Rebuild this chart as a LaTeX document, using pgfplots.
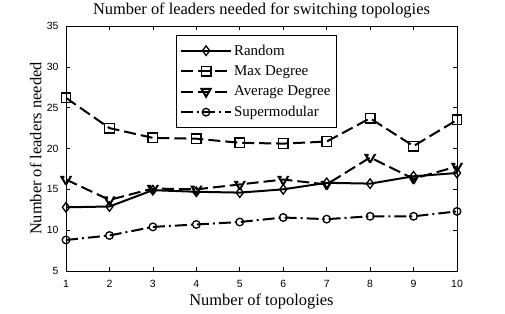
\documentclass[border=0pt]{standalone}
\usepackage{pgfplots}
\pgfplotsset{compat=1.18}
\usepackage{fontspec}
\setmainfont{Liberation Serif}
\newfontfamily\ticksans{Liberation Sans}
\begin{document}
\begin{tikzpicture}[x=1bp,y=1bp]
\useasboundingbox (-66,-42) rectangle (439,271);
\begin{axis}[
  at={(0,0)}, anchor=south west,
  scale only axis, width=391bp, height=245bp,
  xmin=1, xmax=10, ymin=5, ymax=35,
  xtick={1,...,10}, ytick={5,10,...,35},
  tick align=inside, xtick pos=both, ytick pos=both,
  major tick length=4bp,
  tick style={black, line width=0.6bp},
  axis line style={black, line width=0.8bp},
  /pgf/number format/assume math mode=true,
  ticklabel style={font=\ticksans\fontsize{10.5}{10.5}\selectfont},
  xticklabel style={anchor=base, yshift=-16bp},
  yticklabel style={anchor=east, xshift=-4bp},
  title={Number of leaders needed for switching topologies},
  every axis title/.style={font=\fontsize{16.5}{16.5}\selectfont, at={(axis description cs:0.5,1.045)}, anchor=base},
  xlabel={Number of topologies},
  xlabel style={font=\fontsize{16.5}{16.5}\selectfont, at={(axis description cs:0.5,-0.1388)}, anchor=base},
  ylabel={Number of leaders needed},
  ylabel style={font=\fontsize{16.5}{16.5}\selectfont, at={(axis description cs:-0.0627,0.5)}, anchor=base},
  legend style={at={(0.281,0.963)}, anchor=north west, draw=black,
    font=\fontsize{15}{15}\selectfont, row sep=5bp, inner xsep=4bp, inner ysep=7.5bp},
  legend cell align=left,
  legend image code/.code={
    \draw[line width=2bp, #1] (0bp,0bp) -- (50bp,0bp);
    \draw[line width=2bp, #1, solid] plot coordinates {(25bp,0bp)};
  },
  every axis plot/.append style={black, line width=2bp, mark options={solid, fill=white, line width=1.3bp}},
]
\addplot[solid, mark=diamond, mark size=4.8bp] coordinates {
(1,12.8) (2,12.9) (3,14.9) (4,14.7) (5,14.6) (6,15.0) (7,15.8) (8,15.7) (9,16.6) (10,17.0)};
\addlegendentry{Random}
\addplot[dash pattern=on 12bp off 5bp, mark=square, mark size=4.8bp] coordinates {
(1,26.2) (2,22.5) (3,21.3) (4,21.2) (5,20.7) (6,20.6) (7,20.85) (8,23.7) (9,20.3) (10,23.5)};
\addlegendentry{Max Degree}
\addplot[dash pattern=on 12bp off 5bp, mark=triangle, mark size=5.2bp, mark options={rotate=180}] coordinates {
(1,16.2) (2,13.7) (3,15.1) (4,15.0) (5,15.6) (6,16.2) (7,15.6) (8,18.9) (9,16.3) (10,17.8)};
\addlegendentry{Average Degree}
\addplot[dash pattern=on 12bp off 4bp on 2bp off 4bp, mark=o, mark size=3.8bp] coordinates {
(1,8.8) (2,9.35) (3,10.4) (4,10.7) (5,11.0) (6,11.55) (7,11.35) (8,11.7) (9,11.7) (10,12.3)};
\addlegendentry{Supermodular}
\end{axis}
\end{tikzpicture}
\end{document}
